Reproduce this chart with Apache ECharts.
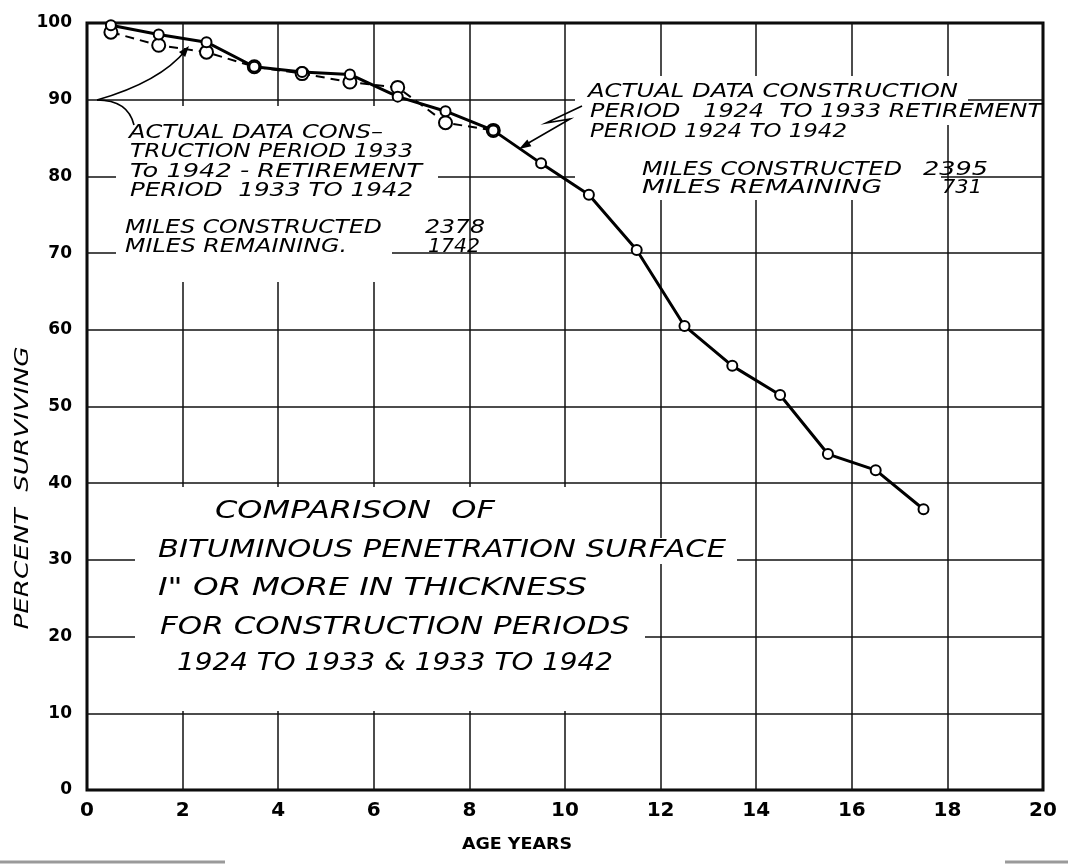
<!DOCTYPE html>
<html>
<head>
<meta charset="utf-8">
<script src="https://cdn.jsdelivr.net/npm/echarts@6/dist/echarts.min.js"></script>
<style>html,body{margin:0;padding:0;background:#fff}#c{width:1068px;height:867px}</style>
</head>
<body>
<div id="c"></div>
<script>
// ---- data ----
const ages1924 = [0.5,1.5,2.5,3.5,4.5,5.5,6.5,7.5,8.5,9.5,10.5,11.5,12.5,13.5,14.5,15.5,16.5,17.5];
const surviving1924 = [99.7,98.5,97.5,94.3,93.6,93.3,90.4,88.5,86.0,81.7,77.6,70.4,60.5,55.3,51.5,43.8,41.7,36.6];
const ages1933 = [0.5,1.5,2.5,3.5,4.5,5.5,6.5,7.5,8.5];
const surviving1933 = [98.8,97.1,96.2,94.3,93.4,92.3,91.6,87.0,86.0];
const xTickValues = [0,2,4,6,8,10,12,14,16,18,20];
const yTickValues = [0,10,20,30,40,50,60,70,80,90,100];
const titleLines = ['COMPARISON  OF','BITUMINOUS PENETRATION SURFACE','I" OR MORE IN THICKNESS','FOR CONSTRUCTION PERIODS','1924 TO 1933 & 1933 TO 1942'];
const leftNote = ['ACTUAL DATA CONS\u2013','TRUCTION PERIOD 1933','To 1942 - RETIREMENT','PERIOD  1933 TO 1942'];
const leftMiles = ['MILES CONSTRUCTED','2378','MILES REMAINING.','1742'];
const rightNote = ['ACTUAL DATA CONSTRUCTION','PERIOD   1924  TO 1933 RETIREMENT','PERIOD 1924 TO 1942'];
const rightMiles = ['MILES CONSTRUCTED','2395','MILES REMAINING','731'];

// ---- layout helpers ----
const FONT = '"DejaVu Sans", "Liberation Sans", sans-serif';
const cv = document.createElement('canvas').getContext('2d');
function sx(text, size, w, italic, weight) {
  cv.font = (italic ? 'italic ' : '') + (weight || 'normal') + ' ' + size + 'px ' + FONT;
  return w / cv.measureText(text).width;
}
function txt(text, x, y, size, w, opts) {
  opts = opts || {};
  const italic = opts.italic !== false;
  return {
    type: 'text', x: x, y: y, z: 10,
    scaleX: w ? sx(text, size, w, italic, opts.weight) : 1,
    rotation: opts.rotation || 0,
    style: {
      text: text, fill: '#000', fontSize: size, fontFamily: FONT,
      fontStyle: italic ? 'italic' : 'normal', fontWeight: opts.weight || 'normal',
      textAlign: opts.align || 'left', align: opts.align || 'left',
      textVerticalAlign: 'middle', verticalAlign: 'middle'
    }
  };
}
function rect(x, y, w, h) {
  return { type: 'rect', z: 1, shape: { x: x, y: y, width: w, height: h }, style: { fill: '#fff' } };
}
function head(fx, fy, tx, ty, len, half) {
  const dx = tx - fx, dy = ty - fy, L = Math.hypot(dx, dy);
  const ux = dx / L, uy = dy / L, px = -uy, py = ux;
  const bx = tx - ux * len, by = ty - uy * len;
  return { type: 'polygon', z: 10, shape: { points: [[tx, ty], [bx + px * half, by + py * half], [bx - px * half, by - py * half]] }, style: { fill: '#000' } };
}

const graphics = [
  // white masks where the hand lettering interrupts the grid
  rect(116, 106, 322, 94),
  rect(116, 200, 276, 82),
  rect(575, 76, 366, 124),
  rect(940, 76, 28, 27),
  rect(940, 103, 100, 22),
  rect(135, 487, 510, 224),
  rect(645, 538, 92, 26),
  // arrows
  { type: 'bezierCurve', z: 10, shape: { x1: 97, y1: 100, x2: 186, y2: 50, cpx1: 160, cpy1: 82 }, style: { stroke: '#000', lineWidth: 1.6, fill: null } },
  head(176, 62, 189, 46, 11, 4),
  { type: 'bezierCurve', z: 10, shape: { x1: 97, y1: 100, x2: 134, y2: 125, cpx1: 128, cpy1: 100 }, style: { stroke: '#000', lineWidth: 1.6, fill: null } },
  { type: 'polyline', z: 10, shape: { points: [[582, 106], [546, 123], [570, 119], [525, 145]] }, style: { stroke: '#000', lineWidth: 1.6, fill: null } },
  head(570, 119, 519, 149, 12, 4),
  // bottom scan edge
  { type: 'line', z: 10, shape: { x1: 0, y1: 862, x2: 225, y2: 862 }, style: { stroke: '#9a9a9a', lineWidth: 3 } },
  { type: 'line', z: 10, shape: { x1: 1005, y1: 862, x2: 1068, y2: 862 }, style: { stroke: '#9a9a9a', lineWidth: 3 } },
  // axis titles
  txt('PERCENT  SURVIVING', 23, 488, 19, 283, { rotation: Math.PI / 2, align: 'center' }),
  txt('AGE YEARS', 517, 845, 16, 110, { italic: false, align: 'center', weight: 'bold' }),
  // title
  txt(titleLines[0], 215, 511, 25, 280),
  txt(titleLines[1], 158, 550, 25, 568),
  txt(titleLines[2], 158, 588, 25, 429),
  txt(titleLines[3], 160, 627, 25, 470),
  txt(titleLines[4], 177, 663, 25, 436),
  // left note
  txt(leftNote[0], 129, 133, 20, 254),
  txt(leftNote[1], 130, 152, 20, 283),
  txt(leftNote[2], 130, 172, 20, 292),
  txt(leftNote[3], 130, 191, 20, 283),
  txt(leftMiles[0], 125, 228, 20, 257),
  txt(leftMiles[1], 425, 228, 20, 60),
  txt(leftMiles[2], 125, 247, 20, 222),
  txt(leftMiles[3], 428, 247, 20, 52),
  // right note
  txt(rightNote[0], 588, 92, 19, 370),
  txt(rightNote[1], 590, 112, 19, 452),
  txt(rightNote[2], 590, 132, 19, 257),
  txt(rightMiles[0], 642, 170, 20, 260),
  txt(rightMiles[1], 923, 170, 20, 65),
  txt(rightMiles[2], 642, 188, 20, 240),
  txt(rightMiles[3], 942, 188, 20, 40)
];

const chart = echarts.init(document.getElementById('c'), null, { renderer: 'canvas' });
chart.setOption({
  animation: false,
  backgroundColor: '#fff',
  grid: { left: 87, top: 23, width: 956, height: 767, show: true, borderColor: '#000', borderWidth: 3, backgroundColor: 'transparent' },
  xAxis: {
    type: 'value', min: xTickValues[0], max: xTickValues[xTickValues.length - 1], interval: 2,
    axisLine: { show: false }, axisTick: { show: false },
    splitLine: { show: true, lineStyle: { color: '#111', width: 1.5 } },
    axisLabel: { fontSize: 20, fontWeight: 'bold', color: '#000', margin: 11, fontFamily: FONT, showMinLabel: true, showMaxLabel: true }
  },
  yAxis: {
    type: 'value', min: yTickValues[0], max: yTickValues[yTickValues.length - 1], interval: 10,
    axisLine: { show: false }, axisTick: { show: false },
    splitLine: { show: true, lineStyle: { color: '#111', width: 1.5 } },
    axisLabel: { fontSize: 17, fontWeight: 'bold', color: '#000', margin: 15, fontFamily: FONT, padding: [0, 0, 9, 0] }
  },
  series: [
    {
      name: '1933 to 1942', type: 'line', z: 3,
      data: ages1933.map((a, i) => [a, surviving1933[i]]),
      lineStyle: { color: '#000', width: 2, type: [9, 6] },
      symbol: 'circle', symbolSize: 13,
      itemStyle: { color: '#fff', borderColor: '#000', borderWidth: 2 }
    },
    {
      name: '1924 to 1933', type: 'line', z: 4,
      data: ages1924.map((a, i) => [a, surviving1924[i]]),
      lineStyle: { color: '#000', width: 3 },
      symbol: 'circle', symbolSize: 10,
      itemStyle: { color: '#fff', borderColor: '#000', borderWidth: 2 }
    }
  ],
  graphic: { elements: graphics }
});
</script>
</body>
</html>
